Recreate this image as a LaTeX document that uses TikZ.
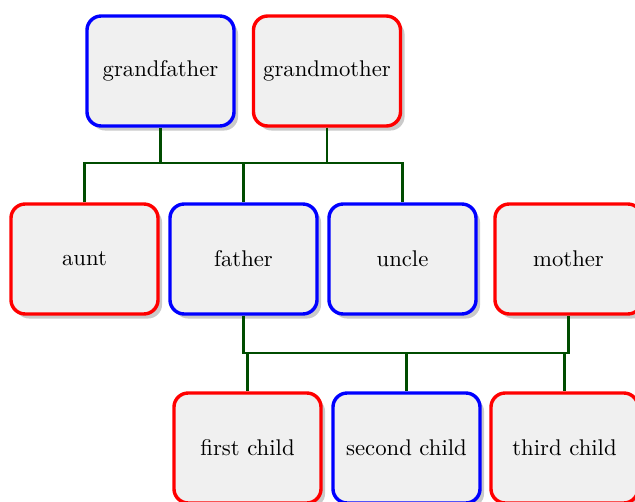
\documentclass[tikz,border=0pt]{standalone}
\usetikzlibrary{positioning, shadows, calc}

\begin{document}
\begin{tikzpicture}[
    x=0.44pt, y=0.44pt,
    % Styles
    person/.style={ % family member box
        rectangle,
        rounded corners=2.2mm,
        minimum width=64.7pt,
        minimum height=48.4pt,
        draw,
        line width=1.5pt,
        fill=black!6,
        drop shadow={opacity=0.35, fill=black!60, shadow xshift=1.8pt, shadow yshift=-2pt}
    },
    male/.style={ % blue frame
        person,
        draw=blue
    },
    female/.style={ % red frame
        person,
        draw=red
    },
    link/.style={ % family lines
        draw=green!30!black,
        line width=1.1pt
    }
]

    % Fix the page
    \useasboundingbox (0,0) rectangle (635,501);

    % Grandparents
    \node[male] (gf) at (160.5,430) {grandfather};
    \node[female] (gm) at (327,430) {grandmother};

    % Parents generation
    \node[female] (aunt) at (84.5,242) {aunt};
    \node[male] (father) at (243.5,242) {father};
    \node[male] (uncle) at (402.5,242) {uncle};
    \node[female] (mother) at (568.5,242) {mother};

    % Children
    \node[female] (c1) at (247.5,53) {first child};
    \node[male] (c2) at (406.5,53) {second child};
    \node[female] (c3) at (564.5,53) {third child};

    % First family
    \coordinate (barA) at (0,338);
    \draw[link] (gf.south) -- (gf.south |- barA);
    \draw[link] (gm.south) -- (gm.south |- barA);
    \draw[link] (aunt.north) |- (uncle.north |- barA) -- (uncle.north);
    \draw[link] (father.north |- barA) -- (father.north);

    % Second family
    \coordinate (barB) at (0,148);
    \draw[link] (father.south) |- (mother.south |- barB) -- (mother.south);
    \foreach \X in {c1, c2, c3} {
        \draw[link] (\X.north |- barB) -- (\X.north);
    }
\end{tikzpicture}
\end{document}
